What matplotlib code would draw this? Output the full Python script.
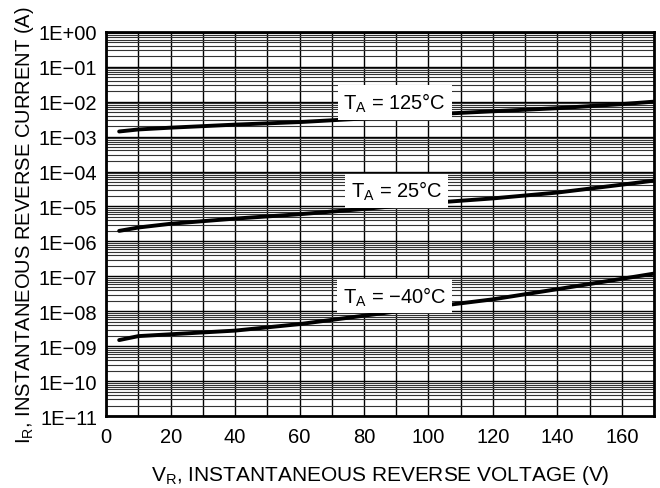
import numpy as np
import matplotlib.pyplot as plt
from matplotlib.ticker import FixedLocator, LogLocator, NullFormatter

plt.rcParams['font.family'] = ['Liberation Sans', 'DejaVu Sans']

# reverse voltage (V) and current (A)
v_125 = [4, 10, 20, 40, 60, 80, 100, 120, 140, 160, 170]
i_125 = [1.4e-3, 1.6e-3, 1.8e-3, 2.2e-3, 2.6e-3, 3.3e-3, 4.3e-3, 5.3e-3, 6.5e-3, 8.5e-3, 1.0e-2]

v_25 = [4, 10, 20, 40, 60, 80, 100, 120, 140, 160, 170]
i_25 = [2.0e-6, 2.5e-6, 3.2e-6, 4.5e-6, 6.0e-6, 8.5e-6, 1.25e-5, 1.7e-5, 2.5e-5, 4.2e-5, 5.5e-5]

v_m40 = [4, 10, 20, 40, 60, 80, 100, 120, 140, 160, 170]
i_m40 = [1.5e-9, 1.95e-9, 2.2e-9, 2.8e-9, 4.3e-9, 7.5e-9, 1.3e-8, 2.2e-8, 4.3e-8, 8.5e-8, 1.2e-7]

labels = ['T$_\\mathregular{A}$ = 125°C', 'T$_\\mathregular{A}$ = 25°C', 'T$_\\mathregular{A}$ = \u221240°C']
label_x = [89.5, 90, 89.5]
label_y = [9.3e-3, 2.8e-5, 2.75e-8]

fig = plt.figure(figsize=(6.6, 4.89), dpi=100)
ax = fig.add_axes([0.161, 0.147, 0.830, 0.786])

ax.set_yscale('log')
ax.set_xlim(0, 170)
ax.set_ylim(1e-11, 1)

ax.xaxis.set_major_locator(FixedLocator(np.arange(0, 161, 20)))
ax.xaxis.set_minor_locator(FixedLocator(np.arange(10, 170, 20)))
ax.yaxis.set_major_locator(LogLocator(base=10, numticks=20))
ax.yaxis.set_minor_locator(LogLocator(base=10, subs=np.arange(2, 10), numticks=20))
ax.yaxis.set_minor_formatter(NullFormatter())

yt = [10.0 ** k for k in range(-11, 1)]
ax.set_yticks(yt)
ax.set_yticklabels(['1E+00' if k == 0 else '1E\u2212%02d' % (-k) for k in range(-11, 1)])

ax.grid(True, which='major', axis='both', color='black', linewidth=1.0)
ax.grid(True, which='minor', axis='x', color='black', linewidth=1.0)
ax.grid(True, which='minor', axis='y', color='#333333', linewidth=0.8)

ax.tick_params(which='both', length=0, labelsize=14.5, pad=6.5)
ax.tick_params(axis='x', pad=8)
for s in ax.spines.values():
    s.set_linewidth(2)

for v, i in [(v_125, i_125), (v_25, i_25), (v_m40, i_m40)]:
    ax.plot(v, i, color='black', linewidth=2.8, solid_capstyle='round', zorder=4)

for t, x, y in zip(labels, label_x, label_y):
    ax.text(x, y, t, fontsize=14.5, ha='center', va='center', zorder=5,
            bbox=dict(facecolor='white', edgecolor='none', pad=4))

ax.set_xlabel('V$_\\mathregular{R}$, INSTANTANEOUS REVERSE VOLTAGE (V)', fontsize=15, labelpad=12)
ax.set_ylabel('I$_\\mathregular{R}$, INSTANTANEOUS REVERSE CURRENT (A)', fontsize=14.5, labelpad=2)

fig.savefig('out.png', dpi=100)
